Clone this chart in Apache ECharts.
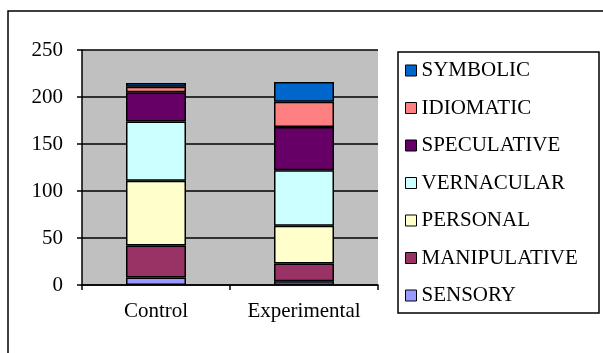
<!DOCTYPE html>
<html>
<head>
<meta charset="utf-8">
<script src="https://cdn.jsdelivr.net/npm/echarts@6/dist/echarts.min.js"></script>
<style>
  html, body { margin: 0; padding: 0; background: #fff; }
  #chart { width: 603px; height: 353px; }
</style>
</head>
<body>
<div id="chart"></div>
<script>
// Groups on the x axis
const categories = ['Control', 'Experimental'];

// Stacked counts per category (bottom to top)
const sensory      = [8, 4];
const manipulative = [34, 19];
const personal     = [69, 40];
const vernacular   = [63, 59];
const speculative  = [31, 46];
const idiomatic    = [6, 27];
const symbolic     = [4, 21];

const seriesNames  = ['SENSORY', 'MANIPULATIVE', 'PERSONAL', 'VERNACULAR', 'SPECULATIVE', 'IDIOMATIC', 'SYMBOLIC'];
const seriesValues = [sensory, manipulative, personal, vernacular, speculative, idiomatic, symbolic];
const seriesColors = ['#9999FF', '#993366', '#FFFFCC', '#CCFFFF', '#660066', '#FF8080', '#0066CC'];

const yTicks = { min: 0, max: 250, interval: 50 };

const FONT = "'Liberation Serif', 'Times New Roman', serif";

const chart = echarts.init(document.getElementById('chart'), null, { renderer: 'canvas' });

const series = seriesNames.map((name, i) => ({
  name: name,
  type: 'bar',
  stack: 'total',
  barWidth: 60,
  data: seriesValues[i],
  itemStyle: { color: seriesColors[i], borderColor: '#000', borderWidth: 1.5 },
  emphasis: { disabled: true }
}));

chart.setOption({
  animation: false,
  backgroundColor: '#fff',
  textStyle: { fontFamily: FONT, color: '#000' },
  grid: {
    left: 82, right: 225, top: 50, bottom: 68,
    show: true, backgroundColor: '#C0C0C0', borderWidth: 0
  },
  xAxis: {
    type: 'category',
    data: categories,
    axisLine: { lineStyle: { color: '#000', width: 1.5 } },
    axisTick: { show: true, length: 5, interval: 0, lineStyle: { color: '#000', width: 1.5 } },
    axisLabel: { fontFamily: FONT, fontSize: 21, color: '#000', margin: 16, interval: 0, hideOverlap: false },
    splitLine: { show: false }
  },
  yAxis: {
    type: 'value',
    min: yTicks.min, max: yTicks.max, interval: yTicks.interval,
    axisLine: { show: true, lineStyle: { color: '#000', width: 1.5 } },
    axisTick: { show: true, length: 5, lineStyle: { color: '#000', width: 1.5 } },
    axisLabel: { fontFamily: FONT, fontSize: 21, color: '#000', margin: 19 },
    splitLine: { show: true, lineStyle: { color: '#000', width: 1.5 } }
  },
  legend: {
    orient: 'vertical',
    left: 400, top: 55,
    data: seriesNames.slice().reverse(),
    itemWidth: 11, itemHeight: 11,
    itemGap: 16.5,
    icon: 'rect',
    itemStyle: { borderColor: '#000', borderWidth: 1 },
    textStyle: { fontFamily: FONT, fontSize: 21, color: '#000', lineHeight: 20 },
    selectedMode: false
  },
  graphic: [
    {
      type: 'rect', silent: true, z: -1,
      shape: { x: 8, y: 11, width: 700, height: 400 },
      style: { fill: 'none', stroke: '#000', lineWidth: 1.5 }
    },
    {
      type: 'rect', silent: true,
      shape: { x: 398, y: 52, width: 201, height: 261 },
      style: { fill: 'none', stroke: '#000', lineWidth: 1.5 }
    }
  ],
  series: series
});
</script>
</body>
</html>
